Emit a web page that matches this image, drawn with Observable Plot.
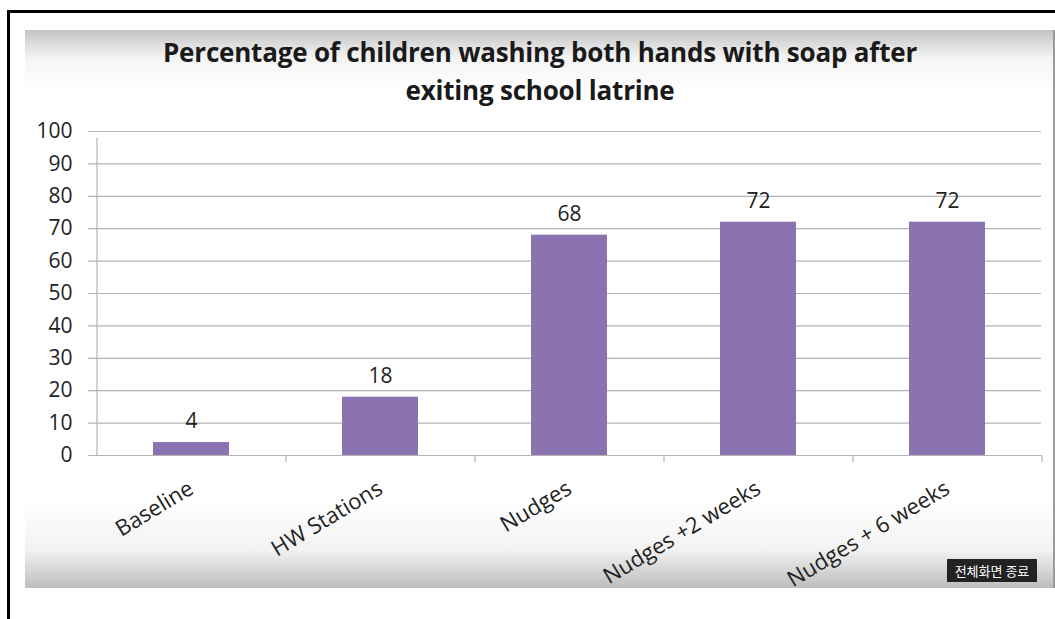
<!DOCTYPE html>
<html>
<head>
<meta charset="utf-8">
<script src="https://cdn.jsdelivr.net/npm/d3@7"></script>
<script src="https://cdn.jsdelivr.net/npm/@observablehq/plot@0.6"></script>
<style>
  html, body { margin: 0; padding: 0; background: #fff; }
  #wrap { position: relative; width: 1055px; height: 619px; overflow: hidden; font-family: "Open Sans", sans-serif; }
  #frame { position: absolute; left: 7px; top: 10px; width: 1100px; height: 700px; border-left: 3px solid #000; border-top: 3px solid #000; }
  #panel { position: absolute; left: 25px; top: 30px; width: 1028px; height: 558px;
    background: linear-gradient(to bottom, #c4c4c4 0px, #f4f4f4 28px, #ffffff 60px, #ffffff 470px, #f2f2f2 520px, #bdbdbd 558px);
    border-right: 2px solid #9a9a9a; }
  #title { position: absolute; left: 25px; width: 1030px; top: 33px; text-align: center; font-weight: 700; font-size: 26px; line-height: 38px; color: #1a1a1a; letter-spacing: -0.2px; }
  #chart { position: absolute; left: 0; top: 0; }
  #btn { position: absolute; left: 947px; top: 559px; width: 90px; height: 23px; background: #222; color: #fff;
    font-family: "Noto Sans CJK KR", sans-serif; font-size: 13px; line-height: 23px; text-align: center; }
</style>
</head>
<body>
<div id="wrap">
  <div id="frame"></div>
  <div id="panel"></div>
  <div id="title">Percentage of children washing both hands with soap after<br>exiting school latrine</div>
  <div id="chart"></div>
  <div id="btn">전체화면 종료</div>
</div>
<script>
const categories = ["Baseline", "HW Stations", "Nudges", "Nudges +2 weeks", "Nudges + 6 weeks"];
const values = [4, 18, 68, 72, 72];
const yTicks = [0, 10, 20, 30, 40, 50, 60, 70, 80, 90, 100];

const data = categories.map((c, i) => ({category: c, value: values[i]}));

const W = 1055, H = 619;
const mL = 96, mR = 14, mT = 131, mB = 164;
const step = (W - mL - mR) / categories.length;
const gridColor = "#b4b4b4";

const plot = Plot.plot({
  width: W,
  height: H,
  marginLeft: mL,
  marginRight: mR,
  marginTop: mT,
  marginBottom: mB,
  style: {background: "transparent", fontFamily: "'Open Sans', sans-serif", color: "#222"},
  x: {domain: categories, paddingInner: 0.6, paddingOuter: 0.3, label: null},
  y: {domain: [0, 100], label: null},
  marks: [
    Plot.gridY(yTicks, {stroke: gridColor, strokeOpacity: 1, strokeWidth: 1.2, insetLeft: -8}),
    Plot.barY(data, {x: "category", y: "value", fill: "#8a73b0"}),
    Plot.ruleX([categories[0]], {x: d => d, dx: -step / 2, y1: 0, y2: 100, stroke: gridColor, strokeWidth: 1.2, insetBottom: -7}),
    Plot.ruleX(categories, {x: d => d, dx: step / 2, y1: 0, y2: 0, stroke: gridColor, strokeWidth: 1.2, insetBottom: -7}),
    Plot.axisY(yTicks, {tickSize: 0, tickPadding: 24, fontSize: 21, fill: "#222"}),
    Plot.axisX({tickSize: 0, tickPadding: 31, tickRotate: -31, fontSize: 22, fill: "#222"}),
    Plot.text(data, {x: "category", y: "value", text: d => String(d.value), dy: -21, fontSize: 21, fill: "#222"})
  ]
});
document.getElementById("chart").appendChild(plot);
</script>
</body>
</html>
